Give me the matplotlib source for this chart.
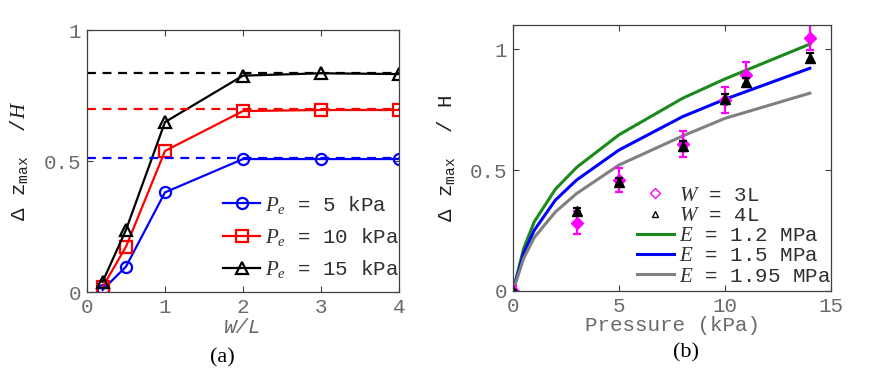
import matplotlib
matplotlib.use("Agg")
import matplotlib.pyplot as plt
from matplotlib.lines import Line2D

plt.rcParams['font.family'] = ['Liberation Mono', 'DejaVu Sans']
plt.rcParams['mathtext.fontset'] = 'custom'
plt.rcParams['mathtext.it'] = 'Liberation Serif:italic'
plt.rcParams['mathtext.rm'] = 'Liberation Mono'
plt.rcParams['mathtext.tt'] = 'Liberation Mono'

# ---------------- data panel (a) ----------------
wl = [0.2, 0.5, 1, 2, 3, 4]
pe5 = [0.009, 0.098, 0.381, 0.508, 0.508, 0.508]
pe10 = [0.02, 0.174, 0.539, 0.691, 0.695, 0.695]
pe15 = [0.04, 0.238, 0.649, 0.826, 0.835, 0.832]
limits_a = [0.512, 0.698, 0.837]
labels_a = [r'$P_e$ = 5 kPa', r'$P_e$ = 10 kPa', r'$P_e$ = 15 kPa']

# ---------------- data panel (b) ----------------
p_model = [0, 0.5, 1, 2, 3, 5, 8, 10, 14]
e12 = [0, 0.175, 0.286, 0.421, 0.511, 0.646, 0.797, 0.877, 1.021]
e15 = [0, 0.155, 0.251, 0.376, 0.459, 0.583, 0.721, 0.793, 0.921]
e195 = [0, 0.134, 0.221, 0.327, 0.403, 0.521, 0.641, 0.714, 0.818]
p_exp = [0, 3, 5, 8, 10, 11, 14]
w3 = [0, 0.282, 0.459, 0.608, 0.79, 0.894, 1.048]
w3_err = [0.02, 0.048, 0.05, 0.053, 0.052, 0.052, 0.052]
w4 = [0, 0.33, 0.452, 0.60, 0.795, 0.866, 0.965]
w4_err = [0.005, 0.014, 0.015, 0.02, 0.02, 0.015, 0.018]

TICK_C = '#6a6a6a'
SPINE_C = '#404040'
FS = 15

fig = plt.figure(figsize=(8.72, 3.70), dpi=100)
ax1 = fig.add_axes([87/872, 1-292.3/370, 312/872, 262.3/370])
ax2 = fig.add_axes([513/872, 1-291/370, 318/872, 266/370])

def style(ax):
    ax.tick_params(direction='in', top=True, right=True, length=4, width=0.8,
                   colors=SPINE_C, labelcolor=TICK_C, labelsize=FS)
    ax.tick_params(axis='x', pad=4)
    ax.tick_params(axis='y', pad=4)
    for s in ax.spines.values():
        s.set_color(SPINE_C)
        s.set_linewidth(0.9)

# ---------- panel (a) ----------
cols = ['#0000ff', '#ff0000', '#000000']
marks = ['o', 's', '^']
for ys, c, m, lab in zip([pe5, pe10, pe15], cols, marks, labels_a):
    ax1.plot(wl, ys, color=c, marker=m, mfc='none', mec=c, ms=8, mew=1.6,
             lw=1.6, label=lab)
for lv, c in zip(limits_a, cols):
    ax1.plot([0, 4], [lv, lv], color=c, ls='--', lw=1.6, dashes=(4, 3))
ax1.set_xlim(0, 4)
ax1.set_ylim(0, 1)
ax1.set_xticks([0, 1, 2, 3, 4])
ax1.set_yticks([0, 0.5, 1])
ax1.set_yticklabels(['0', '0.5', '1'])
style(ax1)
ax1.set_xlabel('W/L', fontsize=FS, color=TICK_C, style='italic', labelpad=1)
ax1.set_ylabel(r'$\Delta$ $\mathtt{z}_{\mathtt{max}}$  /$H$', fontsize=FS, color='#202020')
ax1.yaxis.set_label_coords(-0.183, 0.5)
ax1.legend(loc='lower right', bbox_to_anchor=(1.0, 0.045), frameon=False,
           fontsize=FS, handlelength=1.75, handletextpad=0.25, labelspacing=0.5,
           borderpad=0, borderaxespad=0, labelcolor='#303030')
fig.text(222/872, 1-358/370, '(a)', family='Liberation Serif', fontsize=16,
         ha='center', va='center')

# ---------- panel (b) ----------
ax2.plot(p_model, e12, color='#1a8a1a', lw=2.2, label=r'$E$ = 1.2 MPa')
ax2.plot(p_model, e15, color='#0000ff', lw=2.2, label=r'$E$ = 1.5 MPa')
ax2.plot(p_model, e195, color='#808080', lw=2.2, label=r'$E$ = 1.95 MPa')
ax2.errorbar(p_exp, w3, yerr=w3_err, fmt='none', ecolor='#ff00ff', elinewidth=1.6,
             capsize=3, capthick=1.6)
ax2.plot(p_exp, w3, ls='none', marker='D', ms=6, mfc='#ff00ff', mec='#ff00ff')
ax2.errorbar(p_exp, w4, yerr=w4_err, fmt='none', ecolor='#000000', elinewidth=1.6,
             capsize=3, capthick=1.6)
ax2.plot(p_exp, w4, ls='none', marker='^', ms=7, mfc='#000000', mec='#000000')
ax2.set_xlim(0, 15)
ax2.set_ylim(0, 1.1)
ax2.set_xticks([0, 5, 10, 15])
ax2.set_yticks([0, 0.5, 1])
ax2.set_yticklabels(['0', '0.5', '1'])
style(ax2)
ax2.set_xlabel('Pressure (kPa)', fontsize=FS, color=TICK_C, labelpad=0)
ax2.set_ylabel(r'$\Delta$ $\mathtt{z}_{\mathtt{max}}$  / H', fontsize=FS, color='#202020')
ax2.yaxis.set_label_coords(-0.176, 0.5)
h_lines, l_lines = ax2.get_legend_handles_labels()
proxy3 = Line2D([], [], ls='none', marker='D', ms=5, mfc='none', mec='#ff00ff', mew=1)
proxy4 = Line2D([], [], ls='none', marker='^', ms=5, mfc='none', mec='#000000', mew=1)
ax2.legend([proxy3, proxy4] + h_lines, [r'$W$ = 3L', r'$W$ = 4L'] + l_lines,
           loc='lower right', bbox_to_anchor=(1.0, 0.02), frameon=False,
           fontsize=FS, handlelength=1.75, handletextpad=0.25, labelspacing=0.06,
           borderpad=0, borderaxespad=0, labelcolor='#303030')
fig.text(686/872, 1-353/370, '(b)', family='Liberation Serif', fontsize=16,
         ha='center', va='center')

fig.savefig('out.png', dpi=100)
